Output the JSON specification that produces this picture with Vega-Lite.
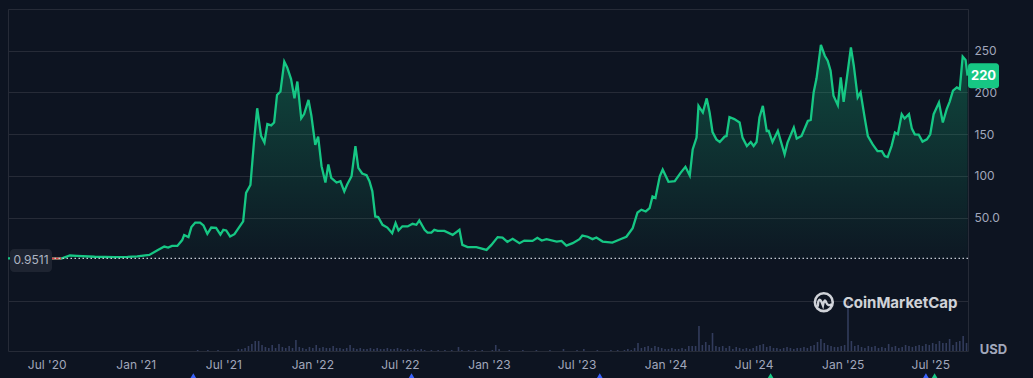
{
  "$schema": "https://vega.github.io/schema/vega-lite/v6.json",
  "width": 960,
  "height": 342,
  "autosize": {"type": "none"},
  "padding": {"left": 8, "top": 9, "right": 65, "bottom": 27},
  "background": "#0d1421",
  "config": {
    "view": {"stroke": "#262b37", "strokeWidth": 1},
    "axis": {"labelFont": "Inter", "titleFont": "Inter"},
    "text": {"font": "Inter"}
  },
  "datasets": {
    "price": [
      {"date": "2020-04-12", "price": 0.95}, {"date": "2020-05-10", "price": 1.3}, {"date": "2020-06-10", "price": 1.1},
      {"date": "2020-07-11", "price": 0.9}, {"date": "2020-07-31", "price": 0.9}, {"date": "2020-08-18", "price": 4.5},
      {"date": "2020-09-01", "price": 4}, {"date": "2020-10-08", "price": 3}, {"date": "2020-11-19", "price": 2.5},
      {"date": "2020-12-15", "price": 2.8}, {"date": "2021-01-04", "price": 3.5}, {"date": "2021-01-29", "price": 5.2},
      {"date": "2021-02-14", "price": 10.4}, {"date": "2021-03-01", "price": 15.2}, {"date": "2021-03-09", "price": 14},
      {"date": "2021-03-17", "price": 16}, {"date": "2021-03-28", "price": 16}, {"date": "2021-04-07", "price": 23},
      {"date": "2021-04-11", "price": 29}, {"date": "2021-04-20", "price": 26.5}, {"date": "2021-04-26", "price": 38.5},
      {"date": "2021-05-04", "price": 44}, {"date": "2021-05-14", "price": 44}, {"date": "2021-05-21", "price": 40.5},
      {"date": "2021-05-29", "price": 30.5}, {"date": "2021-06-06", "price": 38}, {"date": "2021-06-16", "price": 37.5},
      {"date": "2021-06-25", "price": 29.5}, {"date": "2021-07-01", "price": 35.3}, {"date": "2021-07-07", "price": 34.5},
      {"date": "2021-07-15", "price": 27.3}, {"date": "2021-07-24", "price": 30}, {"date": "2021-07-30", "price": 35.3},
      {"date": "2021-08-11", "price": 45.5}, {"date": "2021-08-17", "price": 79.5}, {"date": "2021-08-26", "price": 89},
      {"date": "2021-09-03", "price": 145}, {"date": "2021-09-09", "price": 181}, {"date": "2021-09-17", "price": 148},
      {"date": "2021-09-24", "price": 140}, {"date": "2021-09-30", "price": 162}, {"date": "2021-10-08", "price": 160.5},
      {"date": "2021-10-14", "price": 164}, {"date": "2021-10-20", "price": 197}, {"date": "2021-10-27", "price": 201},
      {"date": "2021-11-04", "price": 237}, {"date": "2021-11-10", "price": 230}, {"date": "2021-11-18", "price": 216},
      {"date": "2021-11-25", "price": 193}, {"date": "2021-12-01", "price": 213}, {"date": "2021-12-09", "price": 169},
      {"date": "2021-12-15", "price": 174}, {"date": "2021-12-24", "price": 191}, {"date": "2021-12-30", "price": 172},
      {"date": "2022-01-07", "price": 137}, {"date": "2022-01-13", "price": 147}, {"date": "2022-01-20", "price": 111.6},
      {"date": "2022-01-28", "price": 92}, {"date": "2022-02-03", "price": 113.6}, {"date": "2022-02-09", "price": 97.6},
      {"date": "2022-02-20", "price": 92}, {"date": "2022-02-28", "price": 93.5}, {"date": "2022-03-08", "price": 81.4},
      {"date": "2022-03-14", "price": 89.5}, {"date": "2022-03-23", "price": 99.5}, {"date": "2022-03-31", "price": 135.7},
      {"date": "2022-04-06", "price": 109.6}, {"date": "2022-04-14", "price": 102.8}, {"date": "2022-04-23", "price": 100.7},
      {"date": "2022-04-29", "price": 93.5}, {"date": "2022-05-05", "price": 81.4}, {"date": "2022-05-11", "price": 51.3},
      {"date": "2022-05-17", "price": 50.6}, {"date": "2022-05-26", "price": 41.3}, {"date": "2022-06-05", "price": 38},
      {"date": "2022-06-15", "price": 31.3}, {"date": "2022-06-22", "price": 43.4}, {"date": "2022-06-28", "price": 34.5},
      {"date": "2022-07-06", "price": 39.5}, {"date": "2022-07-17", "price": 39.3}, {"date": "2022-07-27", "price": 42.5},
      {"date": "2022-08-04", "price": 41.3}, {"date": "2022-08-10", "price": 46.5}, {"date": "2022-08-21", "price": 35.3},
      {"date": "2022-08-27", "price": 32}, {"date": "2022-09-04", "price": 32}, {"date": "2022-09-10", "price": 35.3},
      {"date": "2022-09-17", "price": 34}, {"date": "2022-10-01", "price": 34}, {"date": "2022-10-18", "price": 29.3},
      {"date": "2022-11-01", "price": 35.3}, {"date": "2022-11-07", "price": 17.2}, {"date": "2022-11-18", "price": 14.5},
      {"date": "2022-12-06", "price": 14.5}, {"date": "2022-12-27", "price": 11.2}, {"date": "2023-01-06", "price": 17.2},
      {"date": "2023-01-19", "price": 26.5}, {"date": "2023-01-29", "price": 26}, {"date": "2023-02-08", "price": 20.8},
      {"date": "2023-02-19", "price": 24.5}, {"date": "2023-03-05", "price": 19.3}, {"date": "2023-03-15", "price": 22.4},
      {"date": "2023-04-01", "price": 22}, {"date": "2023-04-11", "price": 25.7}, {"date": "2023-04-20", "price": 22.4},
      {"date": "2023-04-30", "price": 24}, {"date": "2023-05-21", "price": 21.2}, {"date": "2023-05-31", "price": 22},
      {"date": "2023-06-10", "price": 16.4}, {"date": "2023-06-23", "price": 19.3}, {"date": "2023-07-07", "price": 24.1},
      {"date": "2023-07-13", "price": 28.4}, {"date": "2023-07-24", "price": 27}, {"date": "2023-08-03", "price": 24.1},
      {"date": "2023-08-11", "price": 26}, {"date": "2023-08-24", "price": 21.2}, {"date": "2023-09-13", "price": 20},
      {"date": "2023-10-02", "price": 24.5}, {"date": "2023-10-12", "price": 27}, {"date": "2023-10-25", "price": 37.3},
      {"date": "2023-11-04", "price": 56}, {"date": "2023-11-12", "price": 59.4}, {"date": "2023-11-21", "price": 57.3},
      {"date": "2023-11-29", "price": 61.4}, {"date": "2023-12-05", "price": 75.4}, {"date": "2023-12-11", "price": 73.5},
      {"date": "2023-12-20", "price": 99.5}, {"date": "2023-12-26", "price": 107.6}, {"date": "2024-01-07", "price": 92.8},
      {"date": "2024-01-20", "price": 93.5}, {"date": "2024-02-01", "price": 103.6}, {"date": "2024-02-11", "price": 110.8},
      {"date": "2024-02-20", "price": 100.4}, {"date": "2024-02-26", "price": 131.7}, {"date": "2024-03-05", "price": 145.8},
      {"date": "2024-03-09", "price": 183.9}, {"date": "2024-03-18", "price": 175.9}, {"date": "2024-03-26", "price": 192.8},
      {"date": "2024-04-01", "price": 175.9}, {"date": "2024-04-07", "price": 152.5}, {"date": "2024-04-15", "price": 143.7},
      {"date": "2024-04-22", "price": 140.5}, {"date": "2024-05-02", "price": 147}, {"date": "2024-05-06", "price": 147.7},
      {"date": "2024-05-12", "price": 170.5}, {"date": "2024-05-22", "price": 168}, {"date": "2024-06-02", "price": 163.9},
      {"date": "2024-06-08", "price": 145.8}, {"date": "2024-06-17", "price": 135.7}, {"date": "2024-06-25", "price": 140.5},
      {"date": "2024-07-01", "price": 135.7}, {"date": "2024-07-07", "price": 140.5}, {"date": "2024-07-13", "price": 169.9},
      {"date": "2024-07-20", "price": 183.9}, {"date": "2024-07-28", "price": 153.7}, {"date": "2024-08-01", "price": 154},
      {"date": "2024-08-09", "price": 140.5}, {"date": "2024-08-20", "price": 153.7}, {"date": "2024-09-03", "price": 125.7},
      {"date": "2024-09-09", "price": 139.8}, {"date": "2024-09-22", "price": 157.8}, {"date": "2024-09-28", "price": 144.6},
      {"date": "2024-10-08", "price": 147.7}, {"date": "2024-10-21", "price": 165.8}, {"date": "2024-10-27", "price": 167},
      {"date": "2024-11-02", "price": 200}, {"date": "2024-11-08", "price": 216.9}, {"date": "2024-11-17", "price": 257},
      {"date": "2024-11-25", "price": 244}, {"date": "2024-12-01", "price": 238}, {"date": "2024-12-07", "price": 226},
      {"date": "2024-12-13", "price": 196}, {"date": "2024-12-22", "price": 184.7}, {"date": "2024-12-28", "price": 218},
      {"date": "2025-01-03", "price": 188.7}, {"date": "2025-01-18", "price": 254}, {"date": "2025-01-24", "price": 232},
      {"date": "2025-02-01", "price": 194}, {"date": "2025-02-07", "price": 200}, {"date": "2025-02-16", "price": 167.8},
      {"date": "2025-02-22", "price": 147.7}, {"date": "2025-03-04", "price": 137.7}, {"date": "2025-03-14", "price": 129.6},
      {"date": "2025-03-23", "price": 129.6}, {"date": "2025-03-29", "price": 123.6}, {"date": "2025-04-04", "price": 122.4},
      {"date": "2025-04-12", "price": 135.7}, {"date": "2025-04-19", "price": 151.8}, {"date": "2025-04-25", "price": 149.8},
      {"date": "2025-05-03", "price": 173.9}, {"date": "2025-05-09", "price": 168.7}, {"date": "2025-05-18", "price": 173.9},
      {"date": "2025-05-24", "price": 156.6}, {"date": "2025-05-30", "price": 149.8}, {"date": "2025-06-07", "price": 149.5},
      {"date": "2025-06-15", "price": 141}, {"date": "2025-06-24", "price": 143.7}, {"date": "2025-07-01", "price": 149.8},
      {"date": "2025-07-08", "price": 173.9}, {"date": "2025-07-19", "price": 188}, {"date": "2025-07-27", "price": 163.9},
      {"date": "2025-08-04", "price": 179.9}, {"date": "2025-08-10", "price": 188.7}, {"date": "2025-08-17", "price": 202},
      {"date": "2025-08-25", "price": 206}, {"date": "2025-08-31", "price": 204}, {"date": "2025-09-06", "price": 243},
      {"date": "2025-09-12", "price": 239}, {"date": "2025-09-16", "price": 220}
    ],
    "dip": [
      {"date": "2020-07-11", "price": 0.9}, {"date": "2020-07-31", "price": 0.9}
    ],
    "volume": [
      {"date": "2021-05-09", "vol": 1}, {"date": "2021-05-30", "vol": 1}, {"date": "2021-06-20", "vol": 1},
      {"date": "2021-08-01", "vol": 2}, {"date": "2021-08-08", "vol": 2}, {"date": "2021-08-15", "vol": 3}, {"date": "2021-08-22", "vol": 5},
      {"date": "2021-08-29", "vol": 7}, {"date": "2021-09-05", "vol": 10}, {"date": "2021-09-12", "vol": 10}, {"date": "2021-09-19", "vol": 6},
      {"date": "2021-09-26", "vol": 4}, {"date": "2021-10-03", "vol": 3}, {"date": "2021-10-10", "vol": 6}, {"date": "2021-10-17", "vol": 3},
      {"date": "2021-10-24", "vol": 7}, {"date": "2021-10-31", "vol": 4}, {"date": "2021-11-07", "vol": 3}, {"date": "2021-11-14", "vol": 5},
      {"date": "2021-11-21", "vol": 3}, {"date": "2021-11-28", "vol": 11}, {"date": "2021-12-05", "vol": 4}, {"date": "2021-12-12", "vol": 3},
      {"date": "2021-12-19", "vol": 2}, {"date": "2021-12-26", "vol": 4}, {"date": "2022-01-02", "vol": 3}, {"date": "2022-01-09", "vol": 6},
      {"date": "2022-01-16", "vol": 3}, {"date": "2022-01-23", "vol": 4}, {"date": "2022-01-30", "vol": 3}, {"date": "2022-02-06", "vol": 3},
      {"date": "2022-02-13", "vol": 5}, {"date": "2022-02-20", "vol": 3}, {"date": "2022-02-27", "vol": 3}, {"date": "2022-03-06", "vol": 2},
      {"date": "2022-03-13", "vol": 3}, {"date": "2022-03-20", "vol": 6}, {"date": "2022-03-27", "vol": 3}, {"date": "2022-04-03", "vol": 2},
      {"date": "2022-04-10", "vol": 3}, {"date": "2022-04-17", "vol": 2}, {"date": "2022-04-24", "vol": 2}, {"date": "2022-05-01", "vol": 3},
      {"date": "2022-05-08", "vol": 2}, {"date": "2022-05-15", "vol": 3}, {"date": "2022-05-22", "vol": 2}, {"date": "2022-05-29", "vol": 2},
      {"date": "2022-06-05", "vol": 3}, {"date": "2022-06-12", "vol": 2}, {"date": "2022-06-19", "vol": 2}, {"date": "2022-06-26", "vol": 3},
      {"date": "2022-07-03", "vol": 2}, {"date": "2022-07-10", "vol": 1}, {"date": "2022-07-17", "vol": 2}, {"date": "2022-07-24", "vol": 1},
      {"date": "2022-07-31", "vol": 2}, {"date": "2022-08-07", "vol": 1}, {"date": "2022-08-14", "vol": 2}, {"date": "2022-08-21", "vol": 1},
      {"date": "2022-09-04", "vol": 1}, {"date": "2022-09-18", "vol": 1}, {"date": "2022-10-02", "vol": 1}, {"date": "2022-10-16", "vol": 1},
      {"date": "2022-10-30", "vol": 4}, {"date": "2022-11-06", "vol": 1}, {"date": "2022-11-20", "vol": 1}, {"date": "2022-12-04", "vol": 1},
      {"date": "2022-12-18", "vol": 1}, {"date": "2023-01-08", "vol": 1}, {"date": "2023-01-15", "vol": 6}, {"date": "2023-01-22", "vol": 2},
      {"date": "2023-02-12", "vol": 1}, {"date": "2023-03-12", "vol": 1}, {"date": "2023-04-09", "vol": 1}, {"date": "2023-05-07", "vol": 1},
      {"date": "2023-06-04", "vol": 2}, {"date": "2023-07-02", "vol": 1}, {"date": "2023-07-16", "vol": 2}, {"date": "2023-08-13", "vol": 1},
      {"date": "2023-09-10", "vol": 1}, {"date": "2023-09-24", "vol": 1}, {"date": "2023-10-08", "vol": 1}, {"date": "2023-10-15", "vol": 2},
      {"date": "2023-10-22", "vol": 1}, {"date": "2023-10-29", "vol": 3}, {"date": "2023-11-05", "vol": 8}, {"date": "2023-11-12", "vol": 3},
      {"date": "2023-11-19", "vol": 4}, {"date": "2023-11-26", "vol": 5}, {"date": "2023-12-03", "vol": 3}, {"date": "2023-12-10", "vol": 5},
      {"date": "2023-12-17", "vol": 4}, {"date": "2023-12-24", "vol": 3}, {"date": "2023-12-31", "vol": 2}, {"date": "2024-01-07", "vol": 2},
      {"date": "2024-01-14", "vol": 3}, {"date": "2024-01-21", "vol": 2}, {"date": "2024-01-28", "vol": 2}, {"date": "2024-02-04", "vol": 3},
      {"date": "2024-02-11", "vol": 2}, {"date": "2024-02-18", "vol": 5}, {"date": "2024-02-25", "vol": 5}, {"date": "2024-03-03", "vol": 5},
      {"date": "2024-03-10", "vol": 25}, {"date": "2024-03-17", "vol": 6}, {"date": "2024-03-24", "vol": 9}, {"date": "2024-03-31", "vol": 6},
      {"date": "2024-04-07", "vol": 18}, {"date": "2024-04-14", "vol": 5}, {"date": "2024-04-21", "vol": 4}, {"date": "2024-04-28", "vol": 5},
      {"date": "2024-05-05", "vol": 3}, {"date": "2024-05-12", "vol": 5}, {"date": "2024-05-19", "vol": 2}, {"date": "2024-05-26", "vol": 4},
      {"date": "2024-06-02", "vol": 3}, {"date": "2024-06-09", "vol": 2}, {"date": "2024-06-16", "vol": 3}, {"date": "2024-06-23", "vol": 2},
      {"date": "2024-06-30", "vol": 3}, {"date": "2024-07-07", "vol": 5}, {"date": "2024-07-14", "vol": 6}, {"date": "2024-07-21", "vol": 7},
      {"date": "2024-07-28", "vol": 4}, {"date": "2024-08-04", "vol": 5}, {"date": "2024-08-11", "vol": 3}, {"date": "2024-08-18", "vol": 3},
      {"date": "2024-08-25", "vol": 2}, {"date": "2024-09-01", "vol": 3}, {"date": "2024-09-08", "vol": 4}, {"date": "2024-09-15", "vol": 3},
      {"date": "2024-09-22", "vol": 2}, {"date": "2024-09-29", "vol": 3}, {"date": "2024-10-06", "vol": 3}, {"date": "2024-10-13", "vol": 4},
      {"date": "2024-10-20", "vol": 3}, {"date": "2024-10-27", "vol": 5}, {"date": "2024-11-03", "vol": 6}, {"date": "2024-11-10", "vol": 9},
      {"date": "2024-11-17", "vol": 12}, {"date": "2024-11-24", "vol": 8}, {"date": "2024-12-01", "vol": 6}, {"date": "2024-12-08", "vol": 5},
      {"date": "2024-12-15", "vol": 4}, {"date": "2024-12-22", "vol": 4}, {"date": "2024-12-29", "vol": 5}, {"date": "2025-01-05", "vol": 6},
      {"date": "2025-01-12", "vol": 49}, {"date": "2025-01-19", "vol": 10}, {"date": "2025-01-26", "vol": 5}, {"date": "2025-02-02", "vol": 6},
      {"date": "2025-02-09", "vol": 4}, {"date": "2025-02-16", "vol": 3}, {"date": "2025-02-23", "vol": 5}, {"date": "2025-03-02", "vol": 4},
      {"date": "2025-03-09", "vol": 5}, {"date": "2025-03-16", "vol": 3}, {"date": "2025-03-23", "vol": 4}, {"date": "2025-03-30", "vol": 3},
      {"date": "2025-04-06", "vol": 7}, {"date": "2025-04-13", "vol": 4}, {"date": "2025-04-20", "vol": 5}, {"date": "2025-04-27", "vol": 3},
      {"date": "2025-05-04", "vol": 4}, {"date": "2025-05-11", "vol": 6}, {"date": "2025-05-18", "vol": 5}, {"date": "2025-05-25", "vol": 4},
      {"date": "2025-06-01", "vol": 5}, {"date": "2025-06-08", "vol": 6}, {"date": "2025-06-15", "vol": 5}, {"date": "2025-06-22", "vol": 7},
      {"date": "2025-06-29", "vol": 6}, {"date": "2025-07-06", "vol": 8}, {"date": "2025-07-13", "vol": 7}, {"date": "2025-07-20", "vol": 10},
      {"date": "2025-07-27", "vol": 8}, {"date": "2025-08-03", "vol": 8}, {"date": "2025-08-10", "vol": 12}, {"date": "2025-08-17", "vol": 6},
      {"date": "2025-08-24", "vol": 9}, {"date": "2025-08-31", "vol": 10}, {"date": "2025-09-07", "vol": 15}, {"date": "2025-09-14", "vol": 8}
    ],
    "events": [
      {"date": "2021-04-30", "price": -142, "kind": "a"}, {"date": "2022-07-25", "price": -142, "kind": "a"},
      {"date": "2023-08-18", "price": -142, "kind": "a"}, {"date": "2024-08-05", "price": -142, "kind": "b"},
      {"date": "2025-06-22", "price": -142, "kind": "a"}, {"date": "2025-07-10", "price": -142, "kind": "b"}
    ],
    "last": [{"date": "2025-09-16", "price": 220, "label": "220"}],
    "base": [{"date": "2020-04-12", "price": 0.9511, "label": "0.9511"}],
    "brand": [{"date": "2025-01-01", "price": -52, "label": "CoinMarketCap"}],
    "logo": [{"date": "2024-11-23", "price": -51.5}]
  },
  "resolve": {"scale": {"y": "independent"}},
  "layer": [
    {
      "data": {"name": "volume"},
      "mark": {"type": "bar", "color": "#323c5c", "width": 1.6},
      "encoding": {
        "x": {"field": "date", "type": "temporal",
              "scale": {"type": "utc", "nice": false, "padding": 0, "domain": [{"year": 2020, "month": 4, "date": 12, "utc": true}, {"year": 2025, "month": 9, "date": 17, "utc": true}]}},
        "y": {"field": "vol", "type": "quantitative", "axis": null, "scale": {"domain": [0, 342], "nice": false}}
      }
    },
    {
      "layer": [
        {
          "data": {"name": "price"},
          "mark": {"type": "area", "interpolate": "linear",
                   "color": {"gradient": "linear", "x1": 0, "y1": 0, "x2": 0, "y2": 1,
                             "stops": [{"offset": 0, "color": "rgba(22,199,132,0.30)"}, {"offset": 1, "color": "rgba(22,199,132,0.02)"}]}},
          "encoding": {
            "x": {"field": "date", "type": "temporal",
                  "scale": {"type": "utc", "nice": false, "padding": 0, "domain": [{"year": 2020, "month": 4, "date": 12, "utc": true}, {"year": 2025, "month": 9, "date": 17, "utc": true}]},
                  "axis": {"title": null, "format": "%b '%y", "formatType": "time",
                           "values": [
                             {"year": 2020, "month": 7, "date": 1, "utc": true}, {"year": 2021, "month": 1, "date": 1, "utc": true},
                             {"year": 2021, "month": 7, "date": 1, "utc": true}, {"year": 2022, "month": 1, "date": 1, "utc": true},
                             {"year": 2022, "month": 7, "date": 1, "utc": true}, {"year": 2023, "month": 1, "date": 1, "utc": true},
                             {"year": 2023, "month": 7, "date": 1, "utc": true}, {"year": 2024, "month": 1, "date": 1, "utc": true},
                             {"year": 2024, "month": 7, "date": 1, "utc": true}, {"year": 2025, "month": 1, "date": 1, "utc": true},
                             {"year": 2025, "month": 7, "date": 1, "utc": true}],
                           "grid": false, "domain": false, "ticks": false, "labelPadding": 8,
                           "labelColor": "#a1a7bb", "labelFontSize": 12, "labelFlush": false, "labelOverlap": false, "labelBound": false}},
            "y": {"field": "price", "type": "quantitative",
                  "scale": {"domain": [-110, 300], "nice": false, "zero": false},
                  "axis": {"orient": "right", "values": [-50, 50, 100, 150, 200, 250, 300],
                           "labelExpr": "datum.value == 50 ? '50.0' : (datum.value < 0 || datum.value > 250 ? '' : datum.label)",
                           "grid": true, "gridColor": "#262b37", "gridWidth": 1, "domain": false, "ticks": false,
                           "labelPadding": 6, "labelColor": "#a1a7bb", "labelFontSize": 12,
                           "title": "USD", "titleAngle": 0, "titleX": 25, "titleY": 340, "titleAlign": "center", "titleBaseline": "middle",
                           "titleColor": "#a1a7bb", "titleFontSize": 13, "titleFontWeight": "bold"}},
            "y2": {"datum": 0}
          }
        },
        {
          "data": {"name": "price"},
          "mark": {"type": "line", "color": "#16c784", "strokeWidth": 2.3, "interpolate": "linear"},
          "encoding": {
            "x": {"field": "date", "type": "temporal"},
            "y": {"field": "price", "type": "quantitative"}
          }
        },
        {
          "data": {"name": "dip"},
          "mark": {"type": "line", "color": "#ea3943", "strokeWidth": 2},
          "encoding": {
            "x": {"field": "date", "type": "temporal"},
            "y": {"field": "price", "type": "quantitative"}
          }
        },
        {
          "data": {"name": "base"},
          "mark": {"type": "rule", "color": "#c5cbd6", "strokeDash": [1.5, 2.5], "strokeWidth": 1.2},
          "encoding": {"y": {"field": "price", "type": "quantitative"}}
        },
        {
          "data": {"name": "base"},
          "mark": {"type": "point", "filled": true, "color": "#1e2431", "opacity": 1, "size": 1764, "xOffset": 23, "yOffset": 2,
                   "shape": "M-0.81,-0.548 H0.81 A0.19,0.19 0 0 1 1,-0.358 V0.358 A0.19,0.19 0 0 1 0.81,0.548 H-0.81 A0.19,0.19 0 0 1 -1,0.358 V-0.358 A0.19,0.19 0 0 1 -0.81,-0.548 Z"},
          "encoding": {
            "x": {"field": "date", "type": "temporal"},
            "y": {"field": "price", "type": "quantitative"}
          }
        },
        {
          "data": {"name": "base"},
          "mark": {"type": "text", "color": "#aeb5c2", "fontSize": 12, "align": "center", "baseline": "middle", "xOffset": 23, "yOffset": 2},
          "encoding": {
            "x": {"field": "date", "type": "temporal"},
            "y": {"field": "price", "type": "quantitative"},
            "text": {"field": "label"}
          }
        },
        {
          "data": {"name": "last"},
          "mark": {"type": "point", "filled": true, "color": "#16c784", "opacity": 1, "size": 961, "xOffset": 16,
                   "shape": "M-0.806,-0.806 H0.806 A0.194,0.194 0 0 1 1,-0.612 V0.612 A0.194,0.194 0 0 1 0.806,0.806 H-0.806 A0.194,0.194 0 0 1 -1,0.612 V-0.612 A0.194,0.194 0 0 1 -0.806,-0.806 Z"},
          "encoding": {
            "x": {"field": "date", "type": "temporal"},
            "y": {"field": "price", "type": "quantitative"}
          }
        },
        {
          "data": {"name": "last"},
          "mark": {"type": "text", "color": "#ffffff", "fontSize": 13, "fontWeight": "bold", "align": "center", "baseline": "middle", "xOffset": 16},
          "encoding": {
            "x": {"field": "date", "type": "temporal"},
            "y": {"field": "price", "type": "quantitative"},
            "text": {"field": "label"}
          }
        },
        {
          "data": {"name": "logo"},
          "mark": {"type": "point", "filled": false, "shape": "circle", "size": 320, "strokeWidth": 2.6, "color": "#e4e7ec", "opacity": 0.9},
          "encoding": {
            "x": {"field": "date", "type": "temporal"},
            "y": {"field": "price", "type": "quantitative"}
          }
        },
        {
          "data": {"name": "logo"},
          "mark": {"type": "point", "filled": false, "size": 484, "strokeWidth": 2.4, "color": "#e4e7ec", "opacity": 0.9,
                   "shape": "M-0.55,0.4 L-0.5,-0.05 Q-0.38,-0.42 -0.22,-0.05 L-0.08,0.3 Q0.06,-0.42 0.22,0.02 Q0.38,0.42 0.72,0.18"},
          "encoding": {
            "x": {"field": "date", "type": "temporal"},
            "y": {"field": "price", "type": "quantitative"}
          }
        },
        {
          "data": {"name": "brand"},
          "mark": {"type": "text", "color": "#e4e7ec", "opacity": 0.9, "fontSize": 15, "fontWeight": "bold", "align": "left", "baseline": "middle"},
          "encoding": {
            "x": {"field": "date", "type": "temporal"},
            "y": {"field": "price", "type": "quantitative"},
            "text": {"field": "label"}
          }
        },
        {
          "data": {"name": "events"},
          "mark": {"type": "point", "filled": true, "shape": "triangle-up", "size": 110, "opacity": 1},
          "encoding": {
            "x": {"field": "date", "type": "temporal"},
            "y": {"field": "price", "type": "quantitative"},
            "color": {"field": "kind", "type": "nominal", "legend": null, "scale": {"domain": ["a", "b"], "range": ["#3861fb", "#16c784"]}}
          }
        }
      ]
    }
  ]
}
